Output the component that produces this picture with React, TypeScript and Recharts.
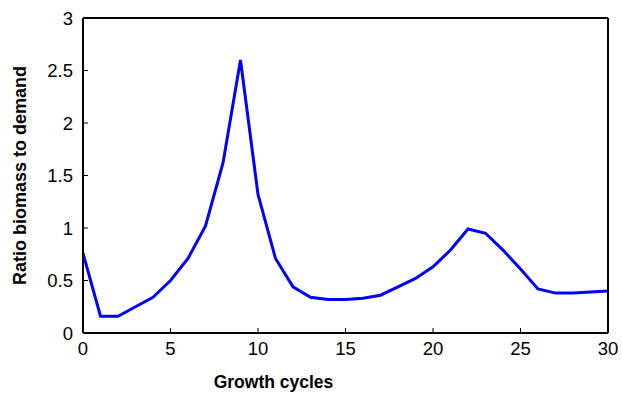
import { LineChart, Line, XAxis, YAxis } from 'recharts'

const cycles = [0, 1, 2, 3, 4, 5, 6, 7, 8, 9, 10, 11, 12, 13, 14, 15, 16, 17, 18, 19, 20, 21, 22, 23, 24, 25, 26, 27, 28, 29, 30]
const ratio = [0.76, 0.16, 0.16, 0.25, 0.34, 0.5, 0.71, 1.02, 1.62, 2.6, 1.32, 0.71, 0.44, 0.34, 0.32, 0.32, 0.33, 0.36, 0.44, 0.52, 0.63, 0.79, 0.99, 0.95, 0.79, 0.61, 0.42, 0.38, 0.38, 0.39, 0.4]
const xTicks = [0, 5, 10, 15, 20, 25, 30]
const yTicks = [0, 0.5, 1, 1.5, 2, 2.5, 3]

const data = cycles.map((c, i) => ({ cycle: c, ratio: ratio[i] }))

const font = 'Liberation Sans, Arial, sans-serif'
const axisLine = { stroke: '#000', strokeWidth: 2 }
const tickFont = { fill: '#000', fontSize: 18.5, fontFamily: font, style: { fontSize: 18.5 } }

export default function App() {
  return (
    <div style={{ position: 'absolute', left: 0, top: 0, background: '#fff', fontFamily: font }}>
      <LineChart width={622} height={394} data={data} margin={{ top: 17, right: 13, bottom: 0, left: 0 }}>
        <XAxis
          xAxisId="bottom"
          dataKey="cycle"
          type="number"
          domain={[0, 30]}
          ticks={xTicks}
          axisLine={axisLine}
          tickLine={{ stroke: '#000' }}
          tickSize={-5}
          tickMargin={14}
          tick={tickFont}
          fontSize={18.5}
          height={61}
          label={{ value: 'Growth cycles', position: 'insideBottom', offset: 6, dx: -72, fill: '#000', fontSize: 17.5, fontWeight: 'bold', fontFamily: font }}
        />
        <XAxis
          xAxisId="top"
          orientation="top"
          dataKey="cycle"
          type="number"
          domain={[0, 30]}
          ticks={xTicks}
          axisLine={axisLine}
          tickLine={{ stroke: '#000' }}
          tickSize={-5}
          tick={false}
          height={1}
        />
        <YAxis
          yAxisId="left"
          type="number"
          domain={[0, 3]}
          ticks={yTicks}
          axisLine={axisLine}
          tickLine={{ stroke: '#000' }}
          tickSize={-5}
          tickMargin={15}
          tick={tickFont}
          fontSize={18.5}
          width={83}
          label={{ value: 'Ratio biomass to demand', angle: -90, position: 'insideLeft', offset: 20, style: { textAnchor: 'middle' }, fill: '#000', fontSize: 18, fontWeight: 'bold', fontFamily: font }}
        />
        <YAxis
          yAxisId="right"
          orientation="right"
          type="number"
          domain={[0, 3]}
          ticks={yTicks}
          axisLine={axisLine}
          tickLine={{ stroke: '#000' }}
          tickSize={-5}
          tick={false}
          width={1}
        />
        <Line
          xAxisId="bottom"
          yAxisId="left"
          type="linear"
          dataKey="ratio"
          stroke="#0000ff"
          strokeWidth={3}
          dot={false}
          isAnimationActive={false}
        />
      </LineChart>
    </div>
  )
}
